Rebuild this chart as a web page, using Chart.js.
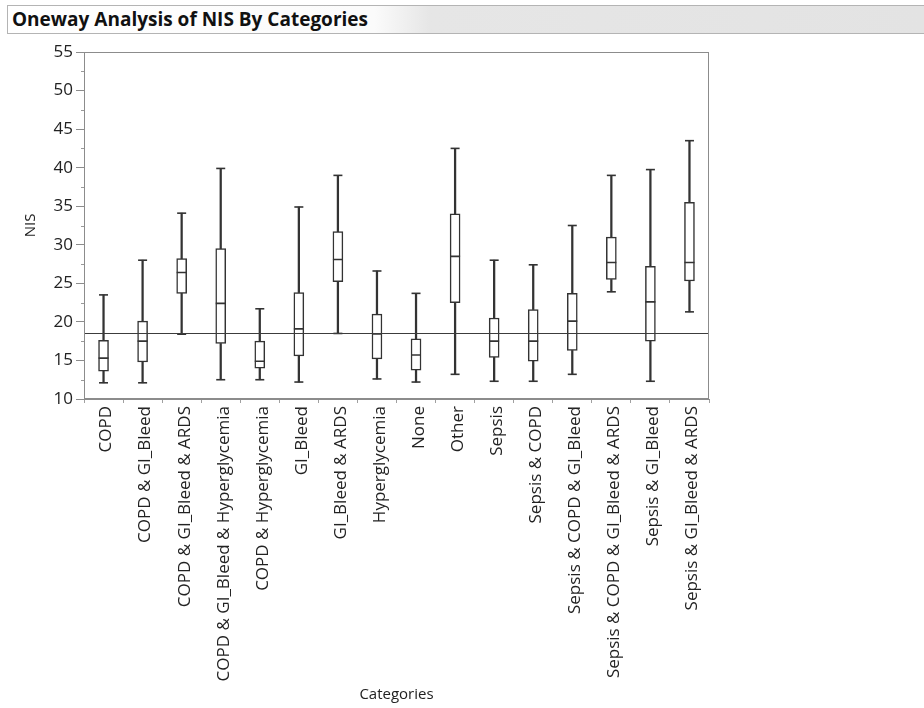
<!DOCTYPE html>
<html>
<head>
<meta charset="utf-8">
<script src="https://cdn.jsdelivr.net/npm/chart.js@4.4.1/dist/chart.umd.min.js"></script>
<style>
  html, body { margin: 0; padding: 0; background: #fff; }
  #wrap { position: relative; width: 924px; height: 708px; overflow: hidden; }
  #hdr {
    position: absolute; left: 7px; top: 5px; width: 917px; height: 29px;
    box-sizing: border-box; border: 1px solid #b4b4b4; border-right: none;
    background: linear-gradient(to right, #ffffff 0%, #fbfbfb 40%, #e6e6e6 46%, #e3e3e3 100%);
    font: bold 19px "Open Sans", sans-serif; line-height: 26px; padding-left: 4px; color: #111;
  }
  canvas { position: absolute; left: 0; top: 0; }
</style>
</head>
<body>
<div id="wrap">
  <canvas id="c" width="924" height="708"></canvas>
  <div id="hdr">Oneway Analysis of NIS By Categories</div>
</div>
<script>
// NIS distribution per category (box-and-whisker summaries)
const categories = [
  "COPD", "COPD & GI_Bleed", "COPD & GI_Bleed & ARDS", "COPD & GI_Bleed & Hyperglycemia",
  "COPD & Hyperglycemia", "GI_Bleed", "GI_Bleed & ARDS", "Hyperglycemia", "None", "Other",
  "Sepsis", "Sepsis & COPD", "Sepsis & COPD & GI_Bleed", "Sepsis & COPD & GI_Bleed & ARDS",
  "Sepsis & GI_Bleed", "Sepsis & GI_Bleed & ARDS"
];
const whiskerLow  = [12.1, 12.1, 18.4, 12.5, 12.5, 12.2, 18.5, 12.6, 12.2, 13.2, 12.3, 12.3, 13.2, 23.9, 12.3, 21.3];
const quartile1   = [13.6, 14.8, 23.7, 17.2, 14.0, 15.6, 25.2, 15.2, 13.75, 22.5, 15.4, 14.9, 16.3, 25.5, 17.5, 25.3];
const medians     = [15.3, 17.5, 26.4, 22.4, 14.9, 19.1, 28.1, 18.45, 15.7, 28.5, 17.5, 17.5, 20.1, 27.7, 22.6, 27.7];
const quartile3   = [17.6, 20.1, 28.2, 29.5, 17.5, 23.8, 31.7, 21.0, 17.8, 34.0, 20.5, 21.6, 23.7, 31.0, 27.2, 35.5];
const whiskerHigh = [23.5, 28.0, 34.1, 39.9, 21.7, 34.9, 39.0, 26.6, 23.7, 42.5, 28.0, 27.4, 32.5, 39.0, 39.75, 43.5];
const grandMean = 18.6;
const yTicks = { min: 10, max: 55, step: 5 };

const ink = "#333333";
const textColor = "#222222";
const fontFamily = "'Open Sans', 'Noto Sans', sans-serif";

// Grand-mean reference line, plot frame and minor y ticks
const decorations = {
  id: "decorations",
  afterDatasetsDraw(chart) {
    const { ctx, chartArea: a, scales: { y } } = chart;
    ctx.save();
    const gy = Math.round(y.getPixelForValue(grandMean)) + 0.5;
    ctx.strokeStyle = "#3c3c3c";
    ctx.lineWidth = 1.2;
    ctx.beginPath();
    ctx.moveTo(a.left, gy);
    ctx.lineTo(a.right, gy);
    ctx.stroke();

    ctx.strokeStyle = "#8c8c8c";
    ctx.lineWidth = 1;
    ctx.strokeRect(a.left + 0.5, a.top + 0.5, a.width - 1, a.height - 1);

    ctx.strokeStyle = "#999999";
    for (let v = yTicks.min + yTicks.step / 2; v < yTicks.max; v += yTicks.step) {
      const py = Math.round(y.getPixelForValue(v)) + 0.5;
      ctx.beginPath();
      ctx.moveTo(a.left - 3, py);
      ctx.lineTo(a.left, py);
      ctx.stroke();
    }
    ctx.restore();
  }
};

const markerSet = (data, radius) => ({
  type: "line",
  data: data,
  showLine: false,
  pointStyle: "line",
  pointRadius: radius,
  pointHoverRadius: radius,
  pointBorderWidth: 1.6,
  pointBorderColor: ink,
  pointBackgroundColor: ink,
  order: 1
});

new Chart(document.getElementById("c"), {
  type: "bar",
  data: {
    labels: categories,
    datasets: [
      {
        data: categories.map((_, i) => [quartile1[i], quartile3[i]]),
        backgroundColor: "#ffffff",
        borderColor: ink,
        borderWidth: 1.5,
        borderSkipped: false,
        barThickness: 10,
        grouped: false,
        order: 3
      },
      {
        data: categories.map((_, i) => [whiskerLow[i], quartile1[i]]),
        backgroundColor: ink,
        borderWidth: 0,
        barThickness: 1.6,
        grouped: false,
        order: 4
      },
      {
        data: categories.map((_, i) => [quartile3[i], whiskerHigh[i]]),
        backgroundColor: ink,
        borderWidth: 0,
        barThickness: 1.6,
        grouped: false,
        order: 4
      },
      markerSet(medians, 5),
      markerSet(whiskerLow, 4.5),
      markerSet(whiskerHigh, 4.5)
    ]
  },
  options: {
    responsive: false,
    animation: false,
    events: [],
    layout: { padding: { top: 52, right: 215, left: 0, bottom: 0 } },
    plugins: { legend: { display: false }, tooltip: { enabled: false } },
    scales: {
      x: {
        offset: true,
        afterFit(s) { s.height = 309; },
        grid: { offset: true, drawOnChartArea: false, drawTicks: true, tickLength: 4, color: "#a0a0a0" },
        border: { display: true, color: "#8c8c8c" },
        ticks: {
          autoSkip: false, maxRotation: 90, minRotation: 90, padding: 3, labelOffset: 3,
          color: textColor, font: { family: fontFamily, size: 17 }
        },
        title: {
          display: true, text: "Categories", color: textColor,
          font: { family: fontFamily, size: 15 }, padding: { top: 4, bottom: 4 }
        }
      },
      y: {
        min: yTicks.min, max: yTicks.max,
        afterFit(s) { s.width = 84; },
        grid: { drawOnChartArea: false, drawTicks: true, tickLength: 8, color: "#8c8c8c" },
        border: { display: true, color: "#8c8c8c" },
        ticks: {
          stepSize: yTicks.step, padding: 3, color: textColor,
          font: { family: fontFamily, size: 17 }
        },
        title: {
          display: true, text: "NIS", color: textColor,
          font: { family: fontFamily, size: 15 }, padding: { top: 22, bottom: 0 }
        }
      }
    }
  },
  plugins: [decorations]
});
</script>
</body>
</html>
